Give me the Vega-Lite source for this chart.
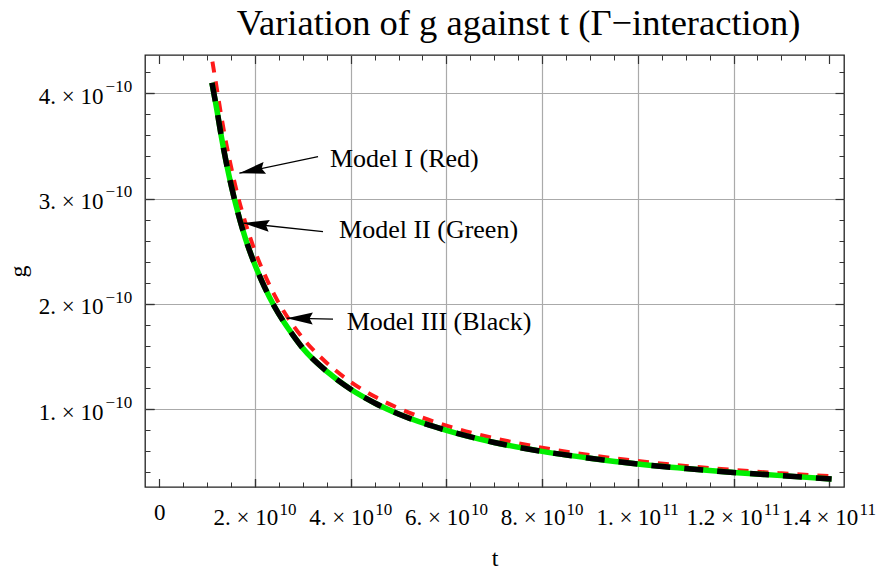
{
  "$schema": "https://vega.github.io/schema/vega-lite/v6.json",
  "width": 699,
  "height": 432,
  "autosize": {"type": "none"},
  "padding": {"left": 145, "top": 55, "right": 37, "bottom": 84},
  "background": "white",
  "title": {
    "text": "Variation of g against t (Γ−interaction)",
    "font": "Liberation Serif",
    "fontSize": 36.5,
    "fontWeight": "normal",
    "color": "black",
    "anchor": "middle",
    "dx": 24,
    "baseline": "bottom",
    "offset": -25
  },
  "datasets": {
    "curves": [
      {"model": "I", "t": 1.11e10, "g": 4.30e-10},
      {"model": "I", "t": 1.2e10, "g": 4.05e-10},
      {"model": "I", "t": 1.3e10, "g": 3.77e-10},
      {"model": "I", "t": 1.4e10, "g": 3.52e-10},
      {"model": "I", "t": 1.5e10, "g": 3.30e-10},
      {"model": "I", "t": 1.6e10, "g": 3.10e-10},
      {"model": "I", "t": 1.8e10, "g": 2.77e-10},
      {"model": "I", "t": 2.0e10, "g": 2.50e-10},
      {"model": "I", "t": 2.2e10, "g": 2.28e-10},
      {"model": "I", "t": 2.4e10, "g": 2.09e-10},
      {"model": "I", "t": 2.6e10, "g": 1.93e-10},
      {"model": "I", "t": 2.8e10, "g": 1.795e-10},
      {"model": "I", "t": 3.0e10, "g": 1.675e-10},
      {"model": "I", "t": 3.5e10, "g": 1.44e-10},
      {"model": "I", "t": 4.0e10, "g": 1.26e-10},
      {"model": "I", "t": 4.5e10, "g": 1.12e-10},
      {"model": "I", "t": 5.0e10, "g": 1.01e-10},
      {"model": "I", "t": 6.0e10, "g": 0.845e-10},
      {"model": "I", "t": 7.0e10, "g": 0.725e-10},
      {"model": "I", "t": 8.0e10, "g": 0.635e-10},
      {"model": "I", "t": 9.0e10, "g": 0.565e-10},
      {"model": "I", "t": 1.0e11, "g": 0.508e-10},
      {"model": "I", "t": 1.1e11, "g": 0.462e-10},
      {"model": "I", "t": 1.2e11, "g": 0.424e-10},
      {"model": "I", "t": 1.3e11, "g": 0.392e-10},
      {"model": "I", "t": 1.405e11, "g": 0.364e-10},
      {"model": "II", "t": 1.1e10, "g": 4.10e-10},
      {"model": "II", "t": 1.2e10, "g": 3.85e-10},
      {"model": "II", "t": 1.3e10, "g": 3.58e-10},
      {"model": "II", "t": 1.4e10, "g": 3.34e-10},
      {"model": "II", "t": 1.5e10, "g": 3.13e-10},
      {"model": "II", "t": 1.6e10, "g": 2.94e-10},
      {"model": "II", "t": 1.8e10, "g": 2.62e-10},
      {"model": "II", "t": 2.0e10, "g": 2.37e-10},
      {"model": "II", "t": 2.2e10, "g": 2.16e-10},
      {"model": "II", "t": 2.4e10, "g": 1.98e-10},
      {"model": "II", "t": 2.6e10, "g": 1.83e-10},
      {"model": "II", "t": 2.8e10, "g": 1.70e-10},
      {"model": "II", "t": 3.0e10, "g": 1.58e-10},
      {"model": "II", "t": 3.5e10, "g": 1.36e-10},
      {"model": "II", "t": 4.0e10, "g": 1.19e-10},
      {"model": "II", "t": 4.5e10, "g": 1.06e-10},
      {"model": "II", "t": 5.0e10, "g": 0.955e-10},
      {"model": "II", "t": 6.0e10, "g": 0.80e-10},
      {"model": "II", "t": 7.0e10, "g": 0.685e-10},
      {"model": "II", "t": 8.0e10, "g": 0.60e-10},
      {"model": "II", "t": 9.0e10, "g": 0.535e-10},
      {"model": "II", "t": 1.0e11, "g": 0.48e-10},
      {"model": "II", "t": 1.1e11, "g": 0.437e-10},
      {"model": "II", "t": 1.2e11, "g": 0.40e-10},
      {"model": "II", "t": 1.3e11, "g": 0.37e-10},
      {"model": "II", "t": 1.405e11, "g": 0.338e-10},
      {"model": "III", "t": 1.1e10, "g": 4.10e-10},
      {"model": "III", "t": 1.2e10, "g": 3.85e-10},
      {"model": "III", "t": 1.3e10, "g": 3.58e-10},
      {"model": "III", "t": 1.4e10, "g": 3.34e-10},
      {"model": "III", "t": 1.5e10, "g": 3.13e-10},
      {"model": "III", "t": 1.6e10, "g": 2.94e-10},
      {"model": "III", "t": 1.8e10, "g": 2.62e-10},
      {"model": "III", "t": 2.0e10, "g": 2.37e-10},
      {"model": "III", "t": 2.2e10, "g": 2.16e-10},
      {"model": "III", "t": 2.4e10, "g": 1.98e-10},
      {"model": "III", "t": 2.6e10, "g": 1.83e-10},
      {"model": "III", "t": 2.8e10, "g": 1.70e-10},
      {"model": "III", "t": 3.0e10, "g": 1.58e-10},
      {"model": "III", "t": 3.5e10, "g": 1.36e-10},
      {"model": "III", "t": 4.0e10, "g": 1.19e-10},
      {"model": "III", "t": 4.5e10, "g": 1.06e-10},
      {"model": "III", "t": 5.0e10, "g": 0.955e-10},
      {"model": "III", "t": 6.0e10, "g": 0.80e-10},
      {"model": "III", "t": 7.0e10, "g": 0.685e-10},
      {"model": "III", "t": 8.0e10, "g": 0.60e-10},
      {"model": "III", "t": 9.0e10, "g": 0.535e-10},
      {"model": "III", "t": 1.0e11, "g": 0.48e-10},
      {"model": "III", "t": 1.1e11, "g": 0.437e-10},
      {"model": "III", "t": 1.2e11, "g": 0.40e-10},
      {"model": "III", "t": 1.3e11, "g": 0.37e-10},
      {"model": "III", "t": 1.405e11, "g": 0.338e-10}
    ],
    "notes": [
      {"model": "I", "label": "Model I (Red)", "tt": 3.567e10, "gt": 3.298e-10, "t1": 3.317e10, "g1": 3.398e-10, "t2": 1.672e10, "g2": 3.241e-10},
      {"model": "II", "label": "Model II (Green)", "tt": 3.756e10, "gt": 2.624e-10, "t1": 3.421e10, "g1": 2.687e-10, "t2": 1.7555e10, "g2": 2.767e-10},
      {"model": "III", "label": "Model III (Black)", "tt": 3.916e10, "gt": 1.754e-10, "t1": 3.630e10, "g1": 1.856e-10, "t2": 2.6625e10, "g2": 1.865e-10}
    ]
  },
  "layer": [
    {
      "data": {"name": "curves"},
      "transform": [{"filter": "datum.model === 'I'"}],
      "mark": {"type": "line", "color": "#ff1a1a", "strokeWidth": 4, "strokeDash": [11, 9], "interpolate": "monotone", "clip": true},
      "encoding": {
        "x": {"field": "t", "type": "quantitative", "scale": {"domain": [-2.99e9, 1.4309e11], "nice": false, "zero": false},
              "axis": {"orient": "bottom", "values": [2e10, 4e10, 6e10, 8e10, 1e11, 1.2e11], "grid": true, "gridColor": "#aaaaaa", "gridWidth": 1.2, "ticks": false, "labels": false, "domain": false, "title": null}},
        "y": {"field": "g", "type": "quantitative", "scale": {"domain": [2.62e-11, 4.363e-10], "nice": false, "zero": false},
              "axis": {"orient": "left", "values": [1e-10, 2e-10, 3e-10, 4e-10], "grid": true, "gridColor": "#aaaaaa", "gridWidth": 1.2, "ticks": false, "labels": false, "domain": false, "title": null}}
      }
    },
    {
      "data": {"name": "curves"},
      "transform": [{"filter": "datum.model === 'II'"}],
      "mark": {"type": "line", "color": "#00ee00", "strokeWidth": 5.5, "interpolate": "monotone", "clip": true},
      "encoding": {
        "x": {"field": "t", "type": "quantitative", "scale": {"domain": [-2.99e9, 1.4309e11], "nice": false, "zero": false},
              "axis": {"orient": "bottom", "values": [0, 2e10, 4e10, 6e10, 8e10, 1e11, 1.2e11, 1.4e11],
                       "labelExpr": "datum.value == 0 ? '' : datum.value < 9e10 ? round(datum.value/1e10) + '. × 10' : datum.value < 1.1e11 ? '1. × 10' : format(datum.value/1e11, '.1f') + ' × 10'",
                       "labelFontSize": 23, "labelPadding": 46.2, "labelBaseline": "alphabetic", "labelAlign": "right",
                       "labelOffset": {"condition": {"test": "datum.value > 1.1e11", "value": 28.6}, "value": 22.8},
                       "tickSize": -8.5, "tickWidth": 1.2,
                       "title": "t", "titleFontSize": 24, "titlePadding": 17}},
        "y": {"field": "g", "type": "quantitative", "scale": {"domain": [2.62e-11, 4.363e-10], "nice": false, "zero": false},
              "axis": {"orient": "left", "values": [1e-10, 2e-10, 3e-10, 4e-10],
                       "labelExpr": "round(datum.value*1e10) + '. × 10'",
                       "labelFontSize": 23, "labelPadding": 51, "labelBaseline": "alphabetic", "labelAlign": "right", "labelOffset": 10,
                       "tickSize": -9, "tickWidth": 1.2,
                       "title": "g", "titleFontSize": 24, "titlePadding": 8}}
      }
    },
    {
      "data": {"name": "curves"},
      "transform": [{"filter": "datum.model === 'III'"}],
      "mark": {"type": "line", "color": "#000000", "strokeWidth": 5.5, "strokeDash": [19, 14], "interpolate": "monotone", "clip": true},
      "encoding": {
        "x": {"field": "t", "type": "quantitative", "scale": {"domain": [-2.99e9, 1.4309e11], "nice": false, "zero": false},
              "axis": {"orient": "bottom", "values": [2e10, 4e10, 6e10, 8e10, 1e11, 1.2e11, 1.4e11],
                       "labelExpr": "datum.value < 9e10 ? '10' : '11'",
                       "labelFontSize": 17, "labelPadding": 36.2, "labelBaseline": "alphabetic", "labelAlign": "left",
                       "labelOffset": {"condition": {"test": "datum.value > 1.1e11", "value": 29.8}, "value": 24},
                       "tickSize": -8.5, "tickWidth": 1.2, "domain": false, "title": null}},
        "y": {"field": "g", "type": "quantitative", "scale": {"domain": [2.62e-11, 4.363e-10], "nice": false, "zero": false},
              "axis": {"orient": "left", "values": [1e-10, 2e-10, 3e-10, 4e-10],
                       "labelExpr": "'−10'",
                       "labelFontSize": 17, "labelPadding": 22.3, "labelBaseline": "alphabetic", "labelAlign": "right", "labelOffset": -1.6,
                       "tickSize": -9, "tickWidth": 1.2, "domain": false, "title": null}}
      }
    },
    {
      "data": {"name": "notes"},
      "mark": {"type": "rule", "color": "black", "strokeWidth": 1.3},
      "encoding": {
        "x": {"field": "t1", "type": "quantitative", "scale": {"domain": [-2.99e9, 1.4309e11], "nice": false, "zero": false},
              "axis": {"orient": "top", "values": [0, 2e10, 4e10, 6e10, 8e10, 1e11, 1.2e11, 1.4e11], "labels": false, "domain": false, "title": null, "tickSize": -8.5, "tickWidth": 1.2}},
        "y": {"field": "g1", "type": "quantitative", "scale": {"domain": [2.62e-11, 4.363e-10], "nice": false, "zero": false},
              "axis": {"orient": "right", "values": [1e-10, 2e-10, 3e-10, 4e-10], "labels": false, "domain": false, "title": null, "tickSize": -9, "tickWidth": 1.2}},
        "x2": {"field": "t2"},
        "y2": {"field": "g2"}
      }
    },
    {
      "data": {"name": "notes"},
      "mark": {"type": "point", "shape": "M0,0L2,-0.46L1.75,0L2,0.46Z", "filled": true, "color": "black", "opacity": 1, "size": 680, "strokeWidth": 0},
      "encoding": {
        "x": {"field": "t2", "type": "quantitative", "scale": {"domain": [-2.99e9, 1.4309e11], "nice": false, "zero": false},
              "axis": {"orient": "top", "values": [5e9, 1e10, 1.5e10, 2.5e10, 3e10, 3.5e10, 4.5e10, 5e10, 5.5e10, 6.5e10, 7e10, 7.5e10, 8.5e10, 9e10, 9.5e10, 1.05e11, 1.1e11, 1.15e11, 1.25e11, 1.3e11, 1.35e11],
                       "labels": false, "domain": false, "title": null, "tickSize": -5, "tickWidth": 1}},
        "y": {"field": "g2", "type": "quantitative", "scale": {"domain": [2.62e-11, 4.363e-10], "nice": false, "zero": false},
              "axis": {"orient": "right", "values": [4e-11, 6e-11, 8e-11, 1.2e-10, 1.4e-10, 1.6e-10, 1.8e-10, 2.2e-10, 2.4e-10, 2.6e-10, 2.8e-10, 3.2e-10, 3.4e-10, 3.6e-10, 3.8e-10, 4.2e-10],
                       "labels": false, "domain": false, "title": null, "tickSize": -5, "tickWidth": 1}},
        "angle": {"condition": [{"test": "datum.model === 'I'", "value": 348}, {"test": "datum.model === 'II'", "value": 6}], "value": 1}
      }
    },
    {
      "data": {"name": "notes"},
      "mark": {"type": "text", "font": "Liberation Serif", "fontSize": 26, "align": "left", "baseline": "alphabetic", "color": "black"},
      "encoding": {
        "x": {"field": "tt", "type": "quantitative", "scale": {"domain": [-2.99e9, 1.4309e11], "nice": false, "zero": false},
              "axis": {"orient": "bottom", "values": [0, 5e9, 1e10, 1.5e10, 2.5e10, 3e10, 3.5e10, 4.5e10, 5e10, 5.5e10, 6.5e10, 7e10, 7.5e10, 8.5e10, 9e10, 9.5e10, 1.05e11, 1.1e11, 1.15e11, 1.25e11, 1.3e11, 1.35e11],
                       "labelExpr": "datum.value == 0 ? '0' : ''",
                       "labelFontSize": 23, "labelPadding": 37.7, "labelBaseline": "alphabetic", "labelAlign": "center",
                       "domain": false, "title": null, "tickSize": -5, "tickWidth": 1}},
        "y": {"field": "gt", "type": "quantitative", "scale": {"domain": [2.62e-11, 4.363e-10], "nice": false, "zero": false},
              "axis": {"orient": "left", "values": [4e-11, 6e-11, 8e-11, 1.2e-10, 1.4e-10, 1.6e-10, 1.8e-10, 2.2e-10, 2.4e-10, 2.6e-10, 2.8e-10, 3.2e-10, 3.4e-10, 3.6e-10, 3.8e-10, 4.2e-10],
                       "labels": false, "domain": false, "title": null, "tickSize": -5, "tickWidth": 1}},
        "text": {"field": "label"}
      }
    }
  ],
  "resolve": {"axis": {"x": "independent", "y": "independent"}},
  "config": {
    "view": {"stroke": "#222222", "strokeWidth": 1.3},
    "axis": {"labelFont": "Liberation Serif", "titleFont": "Liberation Serif", "labelColor": "black", "titleColor": "black", "tickColor": "#333333", "titleFontWeight": "normal", "grid": false, "domain": false, "labelFlush": false, "labelOverlap": false, "labelBound": false}
  }
}
